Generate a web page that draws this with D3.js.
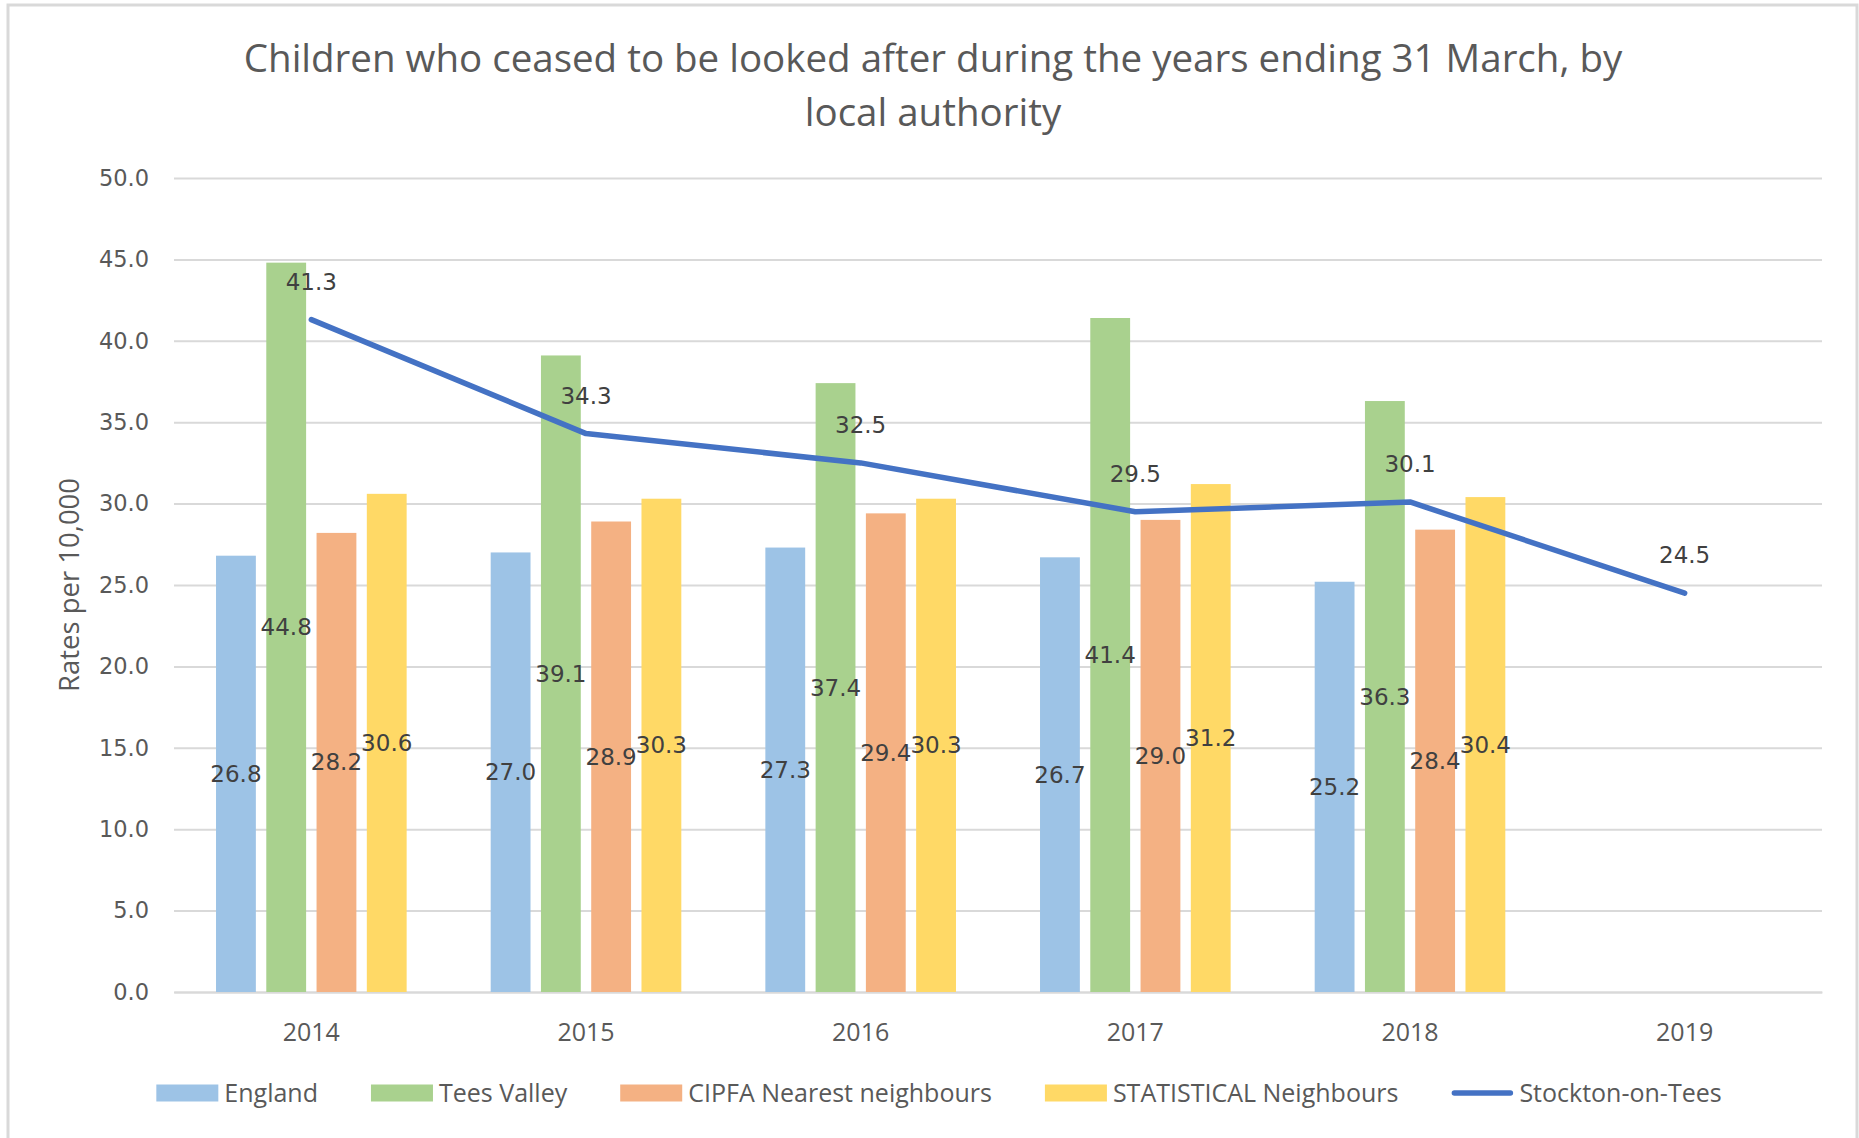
<!DOCTYPE html>
<html>
<head>
<meta charset="utf-8">
<script src="https://cdn.jsdelivr.net/npm/d3@7"></script>
<style>
  html, body { margin: 0; padding: 0; background: #fff; }
  svg { display: block; }
</style>
</head>
<body>
<svg id="chart" width="1859" height="1138"></svg>
<script>
// ---- data ----
const years = ["2014", "2015", "2016", "2017", "2018", "2019"];
const england = [26.8, 27.0, 27.3, 26.7, 25.2, null];
const teesValley = [44.8, 39.1, 37.4, 41.4, 36.3, null];
const cipfa = [28.2, 28.9, 29.4, 29.0, 28.4, null];
const statistical = [30.6, 30.3, 30.3, 31.2, 30.4, null];
const stockton = [41.3, 34.3, 32.5, 29.5, 30.1, 24.5];
const yTicks = [0, 5, 10, 15, 20, 25, 30, 35, 40, 45, 50];
const titleLines = ["Children who ceased to be looked after during the years ending 31 March, by", "local authority"];
const yAxisTitle = "Rates per 10,000";
const barSeries = [
  { name: "England", values: england, color: "#9DC3E6" },
  { name: "Tees Valley", values: teesValley, color: "#A9D18E" },
  { name: "CIPFA Nearest neighbours", values: cipfa, color: "#F4B183" },
  { name: "STATISTICAL Neighbours", values: statistical, color: "#FFD966" }
];
const lineSeries = { name: "Stockton-on-Tees", values: stockton, color: "#4472C4" };

// ---- layout ----
const svg = d3.select("#chart");
const plot = { left: 174, right: 1822, top: 178, bottom: 992 };
const numFont = "'DejaVu Sans', sans-serif";
const txtFont = "'Open Sans', sans-serif";

// chart border
svg.append("rect").attr("x", 8).attr("y", 5).attr("width", 1849).attr("height", 1150)
  .attr("fill", "#fff").attr("stroke", "#D9D9D9").attr("stroke-width", 3);

const x = d3.scaleBand().domain(years).range([plot.left, plot.right]).paddingInner(0).paddingOuter(0);
const y = d3.scaleLinear().domain([0, 50]).range([plot.bottom, plot.top]);

const band = x.bandwidth();
const barW = band * 0.145;
const gap = band * 0.038;
const groupW = barSeries.length * barW + (barSeries.length - 1) * gap;
const xs = d3.scaleBand().domain(barSeries.map(s => s.name)).range([0, groupW]).paddingInner(gap / (barW + gap)).paddingOuter(0);

// gridlines
const yAxis = d3.axisLeft(y).tickValues(yTicks).tickSize(-(plot.right - plot.left)).tickFormat(d3.format(".1f")).tickPadding(25);
const gy = svg.append("g").attr("transform", `translate(${plot.left},0)`).call(yAxis);
gy.select(".domain").remove();
gy.selectAll(".tick line").attr("stroke", "#D9D9D9").attr("stroke-width", 2);
gy.selectAll(".tick text").attr("fill", "#595959").style("font-family", numFont).style("font-size", "22.5px");

// x axis
const xAxis = d3.axisBottom(x).tickSize(0).tickPadding(31);
const gx = svg.append("g").attr("transform", `translate(0,${plot.bottom})`).call(xAxis);
gx.select(".domain").attr("stroke", "#D9D9D9").attr("stroke-width", 2);
gx.selectAll(".tick text").attr("fill", "#595959").style("font-family", txtFont).style("font-size", "25px");

// bars
const bars = [];
barSeries.forEach(s => {
  s.values.forEach((v, i) => {
    if (v != null) bars.push({ series: s, year: years[i], value: v });
  });
});
const barX = d => x(d.year) + (band - groupW) / 2 + xs(d.series.name);
svg.append("g").selectAll("rect").data(bars).join("rect")
  .attr("x", barX)
  .attr("y", d => y(d.value))
  .attr("width", xs.bandwidth())
  .attr("height", d => y(0) - y(d.value))
  .attr("fill", d => d.series.color);

// line
const lineData = lineSeries.values.map((v, i) => ({ year: years[i], value: v })).filter(d => d.value != null);
const line = d3.line().x(d => x(d.year) + band / 2).y(d => y(d.value));
svg.append("path").datum(lineData).attr("d", line)
  .attr("fill", "none").attr("stroke", lineSeries.color).attr("stroke-width", 5.5)
  .attr("stroke-linecap", "round").attr("stroke-linejoin", "round");

// bar labels (centered)
svg.append("g").selectAll("text").data(bars).join("text")
  .attr("x", d => barX(d) + xs.bandwidth() / 2)
  .attr("y", d => (y(d.value) + y(0)) / 2 + 8)
  .attr("text-anchor", "middle")
  .attr("fill", "#404040")
  .style("font-family", numFont).style("font-size", "23px")
  .text(d => d3.format(".1f")(d.value));

// line labels (above)
svg.append("g").selectAll("text").data(lineData).join("text")
  .attr("x", d => x(d.year) + band / 2)
  .attr("y", d => y(d.value) - 30)
  .attr("text-anchor", "middle")
  .attr("fill", "#404040")
  .style("font-family", numFont).style("font-size", "23px")
  .text(d => d3.format(".1f")(d.value));

// title
svg.append("g").selectAll("text").data(titleLines).join("text")
  .attr("x", 933)
  .attr("y", (d, i) => 72 + i * 54)
  .attr("text-anchor", "middle")
  .attr("fill", "#595959")
  .style("font-family", txtFont).style("font-size", "38.5px")
  .text(d => d);

// y axis title
svg.append("text")
  .attr("transform", `translate(79,${(plot.top + plot.bottom) / 2}) rotate(-90)`)
  .attr("text-anchor", "middle")
  .attr("fill", "#595959")
  .style("font-family", txtFont).style("font-size", "27.5px")
  .text(yAxisTitle);

// legend
const legendItems = barSeries.map(s => ({ name: s.name, color: s.color, type: "bar" }))
  .concat([{ name: lineSeries.name, color: lineSeries.color, type: "line" }]);
const lg = svg.append("g");
const swW = 62, swH = 17, swGap = 6, itemGap = 53, legendY = 1093;
const items = lg.selectAll("g").data(legendItems).join("g");
const widths = [];
items.each(function (d) {
  const g = d3.select(this);
  if (d.type === "bar") {
    g.append("rect").attr("x", 0).attr("y", -swH / 2).attr("width", swW).attr("height", swH).attr("fill", d.color);
  } else {
    g.append("line").attr("x1", 3).attr("x2", swW - 3).attr("y1", 0).attr("y2", 0)
      .attr("stroke", d.color).attr("stroke-width", 5.5).attr("stroke-linecap", "round");
  }
  const t = g.append("text").attr("x", swW + swGap).attr("y", 9)
    .attr("fill", "#595959").style("font-family", txtFont).style("font-size", "25px").text(d.name);
  widths.push(swW + swGap + t.node().getComputedTextLength());
});
const totalW = d3.sum(widths) + itemGap * (widths.length - 1);
const startX = 939 - totalW / 2;
items.attr("transform", (d, i) => {
  const tx = startX + d3.sum(widths.slice(0, i)) + itemGap * i;
  return `translate(${tx},${legendY})`;
});
</script>
</body>
</html>
